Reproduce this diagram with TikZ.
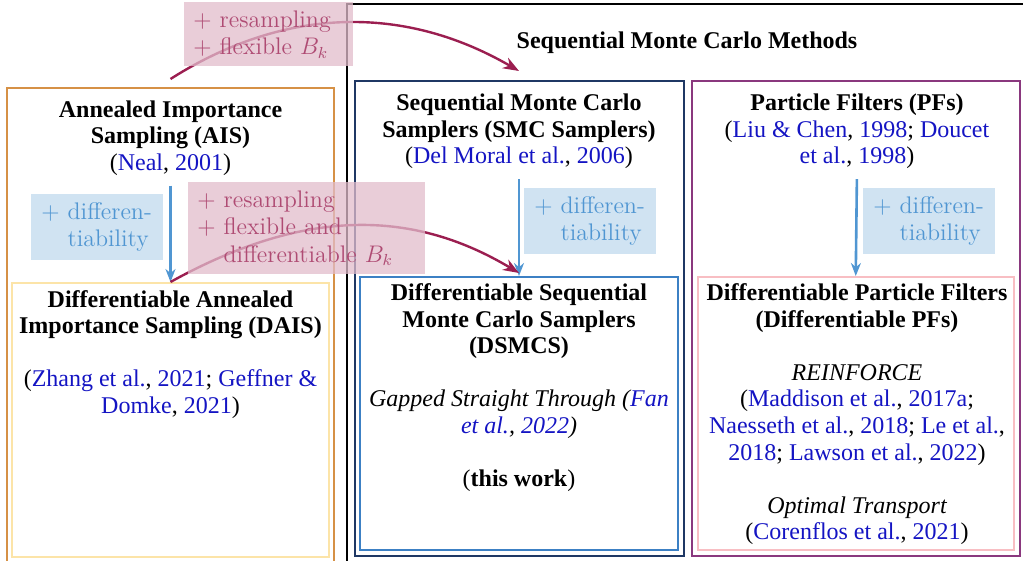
\documentclass[tikz,border=0pt]{standalone}
\usepackage{fontspec}
\usetikzlibrary{arrows.meta, fit}

\newfontfamily\timesfont{Liberation Serif}

\definecolor{aisorange}{RGB}{214,145,70}
\definecolor{daisyellow}{RGB}{252,228,168}
\definecolor{smcnavy}{RGB}{31,56,100}
\definecolor{dsmcsblue}{RGB}{60,128,196}
\definecolor{pfpurple}{RGB}{138,56,126}
\definecolor{dpfpink}{RGB}{248,190,195}
\definecolor{citeblue}{RGB}{20,20,195}
\definecolor{diffblue}{RGB}{80,150,210}
\definecolor{diffbg}{RGB}{208,227,242}
\definecolor{extred}{RGB}{155,30,80}
\definecolor{extbg}{RGB}{225,188,203}

\newcommand{\cit}[1]{\textcolor{citeblue}{#1}}

\begin{document}
\begin{tikzpicture}[x=0.5pt, y=-0.5pt, >=Stealth,
  methodbox/.style={draw, line width=1pt, inner sep=0pt},
  boxtext/.style={align=center, inner sep=0pt, anchor=north, font=\timesfont\fontsize{12}{13.3}\selectfont},
  difflabel/.style={fill=diffbg, text=diffblue, align=left, anchor=north west, inner xsep=5pt, inner ysep=4pt, text width=56pt, font=\fontsize{12}{13.8}\selectfont},
  extlabel/.style={fill=extbg, fill opacity=0.75, text opacity=1, text=extred!80, align=left, anchor=north west, inner xsep=4.5pt, inner ysep=4pt, font=\fontsize{12}{13.8}\selectfont},
  diffarrow/.style={-{Stealth[length=6.5pt, width=5pt]}, draw=diffblue, line width=1.3pt, shorten <=5pt},
  extarrow/.style={-{Stealth[length=8pt, width=6pt]}, draw=extred, line width=1.2pt}]

\useasboundingbox (0,0) rectangle (1023,561);

% frame of the SMC family, runs off the page
\node[methodbox, line width=1.2pt, fit={(347,4) (1080,620)}] (smcfam) {};

% method boxes
\node[methodbox, draw=aisorange, fit={(7,88) (334,620)}] (ais) {};
\node[methodbox, draw=daisyellow, fit={(12,283) (329,557)}] (dais) {};
\node[methodbox, draw=smcnavy, fit={(354.5,81) (683.5,556)}] (smc) {};
\node[methodbox, draw=dsmcsblue, fit={(360,277) (678,550)}] (dsmcs) {};
\node[methodbox, draw=pfpurple, fit={(692,81) (1019.5,556)}] (pf) {};
\node[methodbox, draw=dpfpink, fit={(698,277) (1013.5,550)}] (dpf) {};

% texts
\node[boxtext] (title) at (687,29.7) {\bfseries\strut Sequential Monte Carlo Methods};

\node[boxtext] (aistxt) at (170.5,98) {\textbf{\strut Annealed Importance}\\\textbf{Sampling (AIS)}\\(\cit{Neal}, \cit{2001})};
\node[boxtext] (smctxt) at (519,91.4) {\textbf{\strut Sequential Monte Carlo}\\\textbf{Samplers (SMC Samplers)}\\(\cit{Del Moral et al.}, \cit{2006})};
\node[boxtext] (pftxt) at (857,91.4) {\textbf{\strut Particle Filters (PFs)}\\(\cit{Liu \& Chen}, \cit{1998}; \cit{Doucet}\\\cit{et al.}, \cit{1998})};

\node[boxtext] (daistxt) at (170.5,288) {\textbf{\strut Differentiable Annealed}\\\textbf{Importance Sampling (DAIS)}\\[13.3pt](\cit{Zhang et al.}, \cit{2021}; \cit{Geffner \&}\\\cit{Domke}, \cit{2021})};
\node[boxtext] (dsmcstxt) at (519,281.4) {\textbf{\strut Differentiable Sequential}\\\textbf{Monte Carlo Samplers}\\\textbf{(DSMCS)}\\[13.3pt]{\itshape Gapped Straight Through (\cit{Fan}}\\{\itshape\cit{et al.}, \cit{2022})}\\[13.3pt](\textbf{this work})};
\node[boxtext] (dpftxt) at (857,281.4) {\textbf{\strut Differentiable Particle Filters}\\\textbf{(Differentiable PFs)}\\[13.3pt]{\itshape REINFORCE}\\(\cit{Maddison et al.}, \cit{2017a};\\\cit{Naesseth et al.}, \cit{2018}; \cit{Le et al.},\\\cit{2018}; \cit{Lawson et al.}, \cit{2022})\\[13.3pt]{\itshape Optimal Transport}\\(\cit{Corenflos et al.}, \cit{2021})};

% + differentiability
\draw[diffarrow] (aistxt.south) -- (dais.north);
\draw[diffarrow] (smctxt.south) -- (dsmcs.north);
\draw[diffarrow] (pftxt.south) -- (dpf.north);
\node[difflabel] (diffais) at (31,194) {$+$ differen-\\\phantom{$+$ }tiability};
\node[difflabel] (diffsmc) at (524,188) {$+$ differen-\\\phantom{$+$ }tiability};
\node[difflabel] (diffpf) at (863,188) {$+$ differen-\\\phantom{$+$ }tiability};

% + resampling
\draw[extarrow] ([yshift=4pt]ais.north) .. controls +(110,-70) and +(-119,-69) .. ([yshift=4.5pt]smc.north);
\draw[extarrow] (dais.north) .. controls +(130,-72) and +(-110,-66) .. ([yshift=1.5pt]dsmcs.north);
\node[extlabel, text width=75.5pt] (extais) at (184,2) {$+$ resampling\\$+$ flexible $B_k$};
\node[extlabel, text width=109.5pt] (extdais) at (188,182) {$+$ resampling\\$+$ flexible and\\\phantom{$+$ }differentiable $B_k$};

\end{tikzpicture}
\end{document}
